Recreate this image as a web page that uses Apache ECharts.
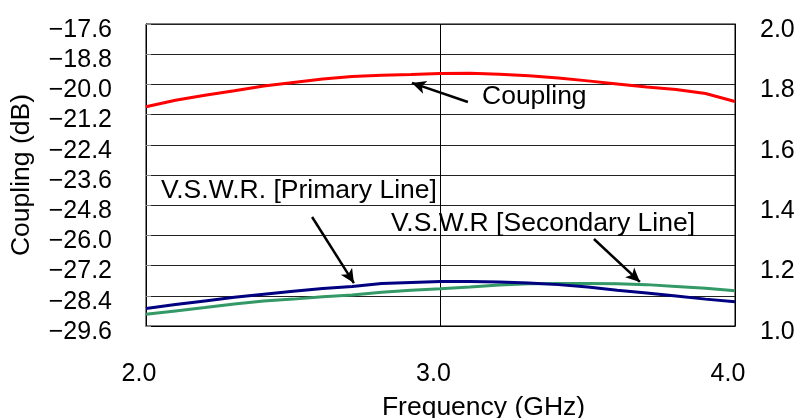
<!DOCTYPE html>
<html>
<head>
<meta charset="utf-8">
<script src="https://cdn.jsdelivr.net/npm/echarts@6/dist/echarts.min.js"></script>
<style>
html,body{margin:0;padding:0;background:#fff;}
#c{width:798px;height:418px;}
</style>
</head>
<body>
<div id="c"></div>
<script>
const freq = [2.0,2.1,2.2,2.3,2.4,2.5,2.6,2.7,2.8,2.9,3.0,3.1,3.2,3.3,3.4,3.5,3.6,3.7,3.8,3.9,4.0];
const coupling = [-20.89,-20.63,-20.43,-20.25,-20.06,-19.92,-19.79,-19.69,-19.64,-19.61,-19.57,-19.56,-19.60,-19.66,-19.75,-19.86,-19.98,-20.10,-20.20,-20.36,-20.68];
const vswrPrimary = [1.058,1.071,1.083,1.095,1.105,1.115,1.124,1.131,1.141,1.144,1.147,1.147,1.146,1.142,1.137,1.129,1.118,1.109,1.099,1.089,1.080];
const vswrSecondary = [1.039,1.050,1.061,1.073,1.083,1.089,1.097,1.103,1.112,1.118,1.123,1.129,1.136,1.140,1.141,1.141,1.140,1.137,1.131,1.125,1.117];
const xTicks = [2.0, 3.0, 4.0];
const leftTicks = [-17.6,-18.8,-20.0,-21.2,-22.4,-23.6,-24.8,-26.0,-27.2,-28.4,-29.6];
const rightTicks = [1.0,1.2,1.4,1.6,1.8,2.0];
const labels = {coupling:'Coupling', primary:'V.S.W.R. [Primary Line]', secondary:'V.S.W.R [Secondary Line]'};

const FONT = "'Liberation Sans', Arial, sans-serif";
const FS = 25;
const FS2 = 26.5;
const pair = (xs, ys) => xs.map((x, i) => [x, ys[i]]);
const fmtLeft = v => { const r = Math.round(v*10)/10; return (r < 0 ? '\u2212' : '') + Math.abs(r).toFixed(1); };

const arrowStyle = {color:'#000', width:2.5, type:'solid'};
function arrow(from, to) {
  return {
    silent: true, animation: false,
    symbol: ['none','arrow'], symbolSize: [10, 14],
    label: {show:false},
    lineStyle: arrowStyle,
    data: [[{coord: from}, {coord: to}]]
  };
}

const chart = echarts.init(document.getElementById('c'), null, {renderer:'canvas'});
chart.setOption({
  animation: false,
  backgroundColor: '#fff',
  textStyle: {fontFamily: FONT},
  grid: {left:146, right:63, top:24, bottom:92, show:true, borderColor:'#000', borderWidth:1, containLabel:false, outerBoundsMode:'none'},
  xAxis: {
    type:'value', min:xTicks[0], max:xTicks[xTicks.length-1], interval:1,
    name:'Frequency (GHz)', nameLocation:'middle', nameGap:68,
    nameTextStyle:{fontSize:FS2, color:'#000', fontFamily:FONT, padding:[0,0,0,86]},
    axisLine:{show:true, lineStyle:{color:'#000'}},
    axisTick:{show:false},
    axisLabel:{fontSize:FS, color:'#000', margin:36, fontFamily:FONT, formatter: v => v.toFixed(1), padding:[0,14,0,0]},
    splitLine:{show:true, lineStyle:{color:'#000', width:1}}
  },
  yAxis: [{
    type:'value', min:leftTicks[leftTicks.length-1], max:leftTicks[0], interval:1.2,
    name:'Coupling (dB)', nameLocation:'middle', nameGap:111,
    nameTextStyle:{fontSize:FS2, color:'#000', fontFamily:FONT},
    axisLine:{show:true, lineStyle:{color:'#000'}},
    axisTick:{show:true, inside:true, length:5, lineStyle:{color:'#888'}},
    axisLabel:{fontSize:FS, color:'#000', margin:34, fontFamily:FONT, formatter: fmtLeft, verticalAlign:'top', lineHeight:12},
    splitLine:{show:true, lineStyle:{color:'#222', width:1}}
  },{
    type:'value', min:rightTicks[0], max:rightTicks[rightTicks.length-1], interval:0.2,
    position:'right',
    axisLine:{show:true, lineStyle:{color:'#000'}},
    axisTick:{show:false},
    axisLabel:{fontSize:FS, color:'#000', margin:25, fontFamily:FONT, formatter: v => v.toFixed(1), verticalAlign:'top', lineHeight:12},
    splitLine:{show:false}
  }],
  series: [{
    name: labels.coupling, type:'line', yAxisIndex:0, showSymbol:false, symbol:'none',
    data: pair(freq, coupling),
    lineStyle:{color:'#ff0000', width:3}, itemStyle:{color:'#ff0000'},
    markLine: arrow([3.093,-20.70],[2.903,-19.94]),
    z: 5
  },{
    name: labels.primary, type:'line', yAxisIndex:1, showSymbol:false, symbol:'none',
    data: pair(freq, vswrPrimary),
    lineStyle:{color:'#000080', width:3}, itemStyle:{color:'#000080'},
    markLine: arrow([2.564,1.361],[2.706,1.142]),
    z: 5
  },{
    name: labels.secondary, type:'line', yAxisIndex:1, showSymbol:false, symbol:'none',
    data: pair(freq, vswrSecondary),
    lineStyle:{color:'#339966', width:3}, itemStyle:{color:'#339966'},
    markLine: arrow([3.521,1.288],[3.677,1.146]),
    z: 4
  }],
  graphic: [
    {type:'text', left:482, top:83, style:{text:labels.coupling, fontSize:FS2, fontFamily:FONT, fill:'#000'}, z:10},
    {type:'text', left:161, top:177, style:{text:labels.primary, fontSize:FS2, fontFamily:FONT, fill:'#000'}, z:10},
    {type:'text', right:103, top:210, style:{text:labels.secondary, fontSize:FS2, fontFamily:FONT, fill:'#000'}, z:10}
  ]
});
</script>
</body>
</html>
